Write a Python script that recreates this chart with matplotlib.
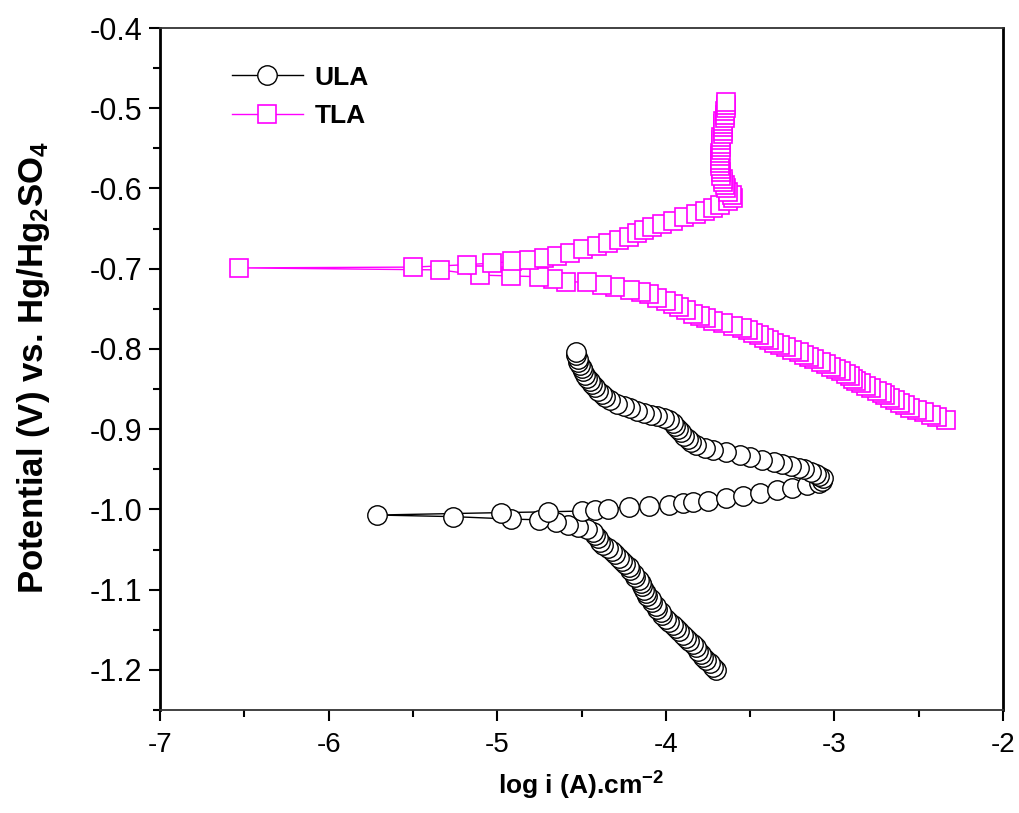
#!/usr/bin/env python3
"""plot_tafel.py"""

import matplotlib
matplotlib.use("Agg")
import matplotlib.pyplot as plt
from matplotlib.ticker import MultipleLocator, FormatStrFormatter

# ULA: potential (V) and log current density, in scan order
ula_e = [-1.200, -1.196, -1.192, -1.188, -1.184, -1.180, -1.176, -1.172, -1.168, -1.164,
         -1.160, -1.156, -1.152, -1.148, -1.144, -1.140, -1.136, -1.132, -1.128, -1.124,
         -1.120, -1.116, -1.112, -1.108, -1.104, -1.100, -1.096, -1.092, -1.088, -1.084,
         -1.080, -1.076, -1.072, -1.068, -1.064, -1.060, -1.056, -1.052, -1.048, -1.044,
         -1.040, -1.036, -1.032, -1.028, -1.025, -1.022, -1.019, -1.016, -1.013, -1.012,
         -1.009, -1.007, -1.004, -1.003, -1.002, -1.001, -0.999, -0.997, -0.996, -0.994,
         -0.992, -0.991, -0.989, -0.986, -0.983, -0.979, -0.976, -0.973, -0.970, -0.967,
         -0.964, -0.961, -0.958, -0.956, -0.953, -0.950, -0.948, -0.946, -0.944, -0.941,
         -0.938, -0.935, -0.932, -0.929, -0.926, -0.923, -0.920, -0.916, -0.912, -0.908,
         -0.904, -0.900, -0.896, -0.892, -0.889, -0.886, -0.884, -0.882, -0.880, -0.877,
         -0.874, -0.871, -0.868, -0.864, -0.860, -0.856, -0.852, -0.848, -0.844, -0.840,
         -0.836, -0.832, -0.828, -0.824, -0.820, -0.816, -0.812, -0.808, -0.804]
ula_logi = [-3.70, -3.72, -3.74, -3.76, -3.78, -3.79, -3.81, -3.82, -3.84, -3.86,
            -3.88, -3.90, -3.92, -3.94, -3.96, -3.98, -4.00, -4.02, -4.03, -4.05,
            -4.06, -4.08, -4.09, -4.11, -4.12, -4.13, -4.14, -4.15, -4.16, -4.18,
            -4.19, -4.21, -4.22, -4.24, -4.26, -4.28, -4.30, -4.32, -4.34, -4.37,
            -4.39, -4.40, -4.42, -4.43, -4.47, -4.52, -4.58, -4.65, -4.75, -4.92,
            -5.26, -5.71, -4.98, -4.70, -4.50, -4.42, -4.34, -4.22, -4.10, -3.98,
            -3.90, -3.84, -3.75, -3.64, -3.54, -3.44, -3.34, -3.25, -3.16, -3.09,
            -3.075, -3.07, -3.09, -3.11, -3.14, -3.18, -3.21, -3.26, -3.31, -3.36,
            -3.43, -3.50, -3.56, -3.64, -3.72, -3.77, -3.82, -3.85, -3.87, -3.89,
            -3.91, -3.93, -3.945, -3.96, -3.98, -4.01, -4.05, -4.09, -4.13, -4.17,
            -4.21, -4.25, -4.29, -4.33, -4.36, -4.38, -4.40, -4.42, -4.44, -4.45,
            -4.47, -4.48, -4.49, -4.50, -4.51, -4.52, -4.52, -4.53, -4.53]

# TLA
tla_e = [-0.888, -0.885, -0.882, -0.879, -0.876, -0.873, -0.870, -0.867, -0.864, -0.861,
         -0.858, -0.855, -0.852, -0.849, -0.846, -0.843, -0.840, -0.837, -0.834, -0.831,
         -0.828, -0.825, -0.822, -0.819, -0.816, -0.813, -0.810, -0.807, -0.804, -0.801,
         -0.798, -0.795, -0.792, -0.789, -0.786, -0.783, -0.780, -0.777, -0.774, -0.771,
         -0.768, -0.765, -0.762, -0.759, -0.756, -0.752, -0.748, -0.744, -0.740, -0.736,
         -0.732, -0.729, -0.726, -0.723, -0.720, -0.717, -0.716, -0.713, -0.710, -0.709,
         -0.708, -0.7015, -0.699, -0.698, -0.695, -0.693, -0.691, -0.689, -0.687, -0.684,
         -0.680, -0.676, -0.672, -0.668, -0.664, -0.660, -0.656, -0.652, -0.648, -0.644,
         -0.640, -0.636, -0.632, -0.628, -0.624, -0.620, -0.616, -0.612, -0.608, -0.604,
         -0.600, -0.596, -0.592, -0.588, -0.584, -0.580, -0.576, -0.572, -0.568, -0.564,
         -0.560, -0.556, -0.552, -0.548, -0.544, -0.540, -0.536, -0.532, -0.528, -0.524,
         -0.520, -0.516, -0.512, -0.508, -0.504, -0.500, -0.496, -0.492]
tla_logi = [-2.34, -2.39, -2.43, -2.47, -2.51, -2.55, -2.58, -2.61, -2.64, -2.67,
            -2.70, -2.72, -2.75, -2.78, -2.81, -2.84, -2.87, -2.89, -2.91, -2.93,
            -2.96, -2.99, -3.02, -3.05, -3.08, -3.12, -3.15, -3.18, -3.21, -3.25,
            -3.29, -3.32, -3.36, -3.39, -3.42, -3.45, -3.48, -3.51, -3.55, -3.60,
            -3.66, -3.72, -3.76, -3.80, -3.84, -3.88, -3.92, -3.96, -4.00, -4.05,
            -4.10, -4.15, -4.21, -4.30, -4.38, -4.47, -4.59, -4.67, -4.75, -4.92,
            -5.10, -5.34, -6.53, -5.50, -5.18, -5.03, -4.91, -4.81, -4.72, -4.645,
            -4.57, -4.49, -4.41, -4.34, -4.28, -4.22, -4.17, -4.13, -4.08, -4.02,
            -3.96, -3.89, -3.82, -3.77, -3.72, -3.68, -3.63, -3.60, -3.61, -3.63,
            -3.64, -3.65, -3.66, -3.66, -3.67, -3.67, -3.67, -3.68, -3.68, -3.68,
            -3.68, -3.68, -3.67, -3.67, -3.67, -3.67, -3.67, -3.66, -3.66, -3.66,
            -3.66, -3.66, -3.65, -3.65, -3.65, -3.64, -3.64, -3.64]

x_ticks = [-7, -6, -5, -4, -3, -2]
y_ticks = [-1.2, -1.1, -1.0, -0.9, -0.8, -0.7, -0.6, -0.5, -0.4]


def plot(ax):
    ax.plot(ula_logi, ula_e, color="black", linewidth=1.0, marker="o",
            markersize=14, markerfacecolor="white", markeredgecolor="black",
            markeredgewidth=1.0, label="ULA")
    ax.plot(tla_logi, tla_e, color="#ff00ff", linewidth=1.0, marker="s",
            markersize=12.5, markerfacecolor="white", markeredgecolor="#ff00ff",
            markeredgewidth=1.2, label="TLA")

    ax.set_xlim(-7, -2)
    ax.set_ylim(-1.25, -0.4)
    ax.set_xticks(x_ticks)
    ax.set_yticks(y_ticks)
    ax.xaxis.set_minor_locator(MultipleLocator(0.5))
    ax.yaxis.set_minor_locator(MultipleLocator(0.05))
    ax.yaxis.set_major_formatter(FormatStrFormatter("%.1f"))

    ax.tick_params(which="both", direction="out", top=False, right=False, width=1.5)
    ax.tick_params(which="major", length=8)
    ax.tick_params(which="minor", length=5)
    ax.tick_params(axis="x", labelsize=20, pad=8)
    ax.tick_params(axis="y", labelsize=22, pad=5)

    for side in ("left", "right"):
        ax.spines[side].set_linewidth(2.0)
        ax.spines[side].set_color("black")
    for side in ("top", "bottom"):
        ax.spines[side].set_linewidth(1.3)
        ax.spines[side].set_color("#333333")

    ax.set_xlabel(r"log i (A).cm$^{-2}$", fontsize=19, fontweight="bold")
    ax.xaxis.set_label_coords(0.5, -0.088)
    ax.set_ylabel(r"Potential (V) vs. Hg/Hg$_2$SO$_4$", fontsize=25, fontweight="bold")
    ax.yaxis.set_label_coords(-0.128, 0.503)

    ax.legend(loc="upper left", bbox_to_anchor=(0.085, 0.945), frameon=False,
              borderpad=0, borderaxespad=0, handlelength=2.7, handletextpad=0.45,
              labelspacing=0.55, prop={"weight": "bold", "size": 19})


def main():
    plt.rcParams["font.family"] = ["Liberation Sans", "DejaVu Sans"]
    plt.rcParams["axes.unicode_minus"] = False
    plt.rcParams["mathtext.fontset"] = "custom"
    plt.rcParams["mathtext.rm"] = "Liberation Sans:bold"
    plt.rcParams["mathtext.it"] = "Liberation Sans:bold"
    plt.rcParams["mathtext.bf"] = "Liberation Sans:bold"
    plt.rcParams["mathtext.default"] = "rm"

    fig = plt.figure(figsize=(10.2, 8.13), dpi=100)
    ax = fig.add_axes([160 / 1020, 1 - 710 / 813, 843 / 1020, 682 / 813])
    plot(ax)
    fig.savefig("out.png", dpi=100)


if __name__ == "__main__":
    main()
